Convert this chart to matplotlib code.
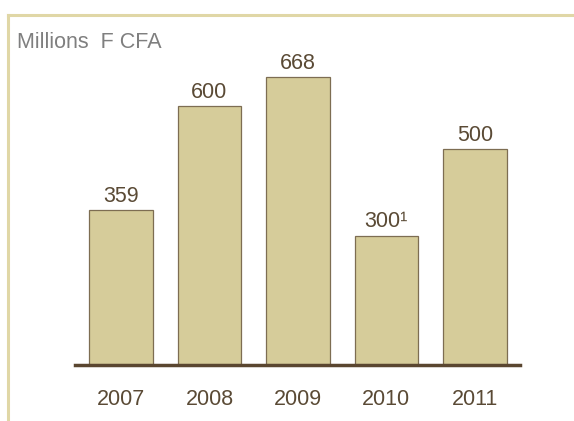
import matplotlib
matplotlib.use("Agg")
import matplotlib.pyplot as plt
from matplotlib.lines import Line2D

years = ["2007", "2008", "2009", "2010", "2011"]
values = [359, 600, 668, 300, 500]
value_labels = ["359", "600", "668", "300\u00b9", "500"]
unit_label = "Millions  F CFA"

plt.rcParams['font.family'] = ['Liberation Sans', 'DejaVu Sans']

W, H = 574, 421
fig = plt.figure(figsize=(W / 100, H / 100), dpi=100)
fig.patch.set_facecolor("white")

# frame lines (top and left)
frame_col = "#e0d7a6"
fig.add_artist(Line2D([8 / W, 1.0], [1 - 14.5 / H, 1 - 14.5 / H], color=frame_col, lw=2.2, transform=fig.transFigure))
fig.add_artist(Line2D([8 / W, 8 / W], [0, 1 - 14.5 / H], color=frame_col, lw=2.2, transform=fig.transFigure))

ax = fig.add_axes([75 / W, 56 / H, (520 - 75) / W, (365 - 30) / H])
x = range(len(years))
bars = ax.bar(x, values, width=0.72, color="#d6cc9a", edgecolor="#7d6d52", linewidth=0.9, zorder=2)
ax.set_xlim(-0.52, 4.51)
ax.set_ylim(0, 777)

for xi, v, lab in zip(x, values, value_labels):
    ax.text(xi, v + 8, lab, ha="center", va="bottom", fontsize=15.5, color="#5a4a35")

for s in ["top", "right", "left"]:
    ax.spines[s].set_visible(False)
ax.spines["bottom"].set_color("#5a4630")
ax.spines["bottom"].set_linewidth(2.5)
ax.spines["bottom"].set_zorder(3)
ax.set_yticks([])
ax.set_xticks(list(x))
ax.set_xticklabels(years, fontsize=15.5, color="#5a4a35")
ax.tick_params(axis="x", length=0, pad=17)

fig.text(17 / W, 1 - 42 / H, unit_label, ha="left", va="center", fontsize=15.5, color="#7f7f7f")

fig.savefig("out.png", dpi=100, facecolor="white")
